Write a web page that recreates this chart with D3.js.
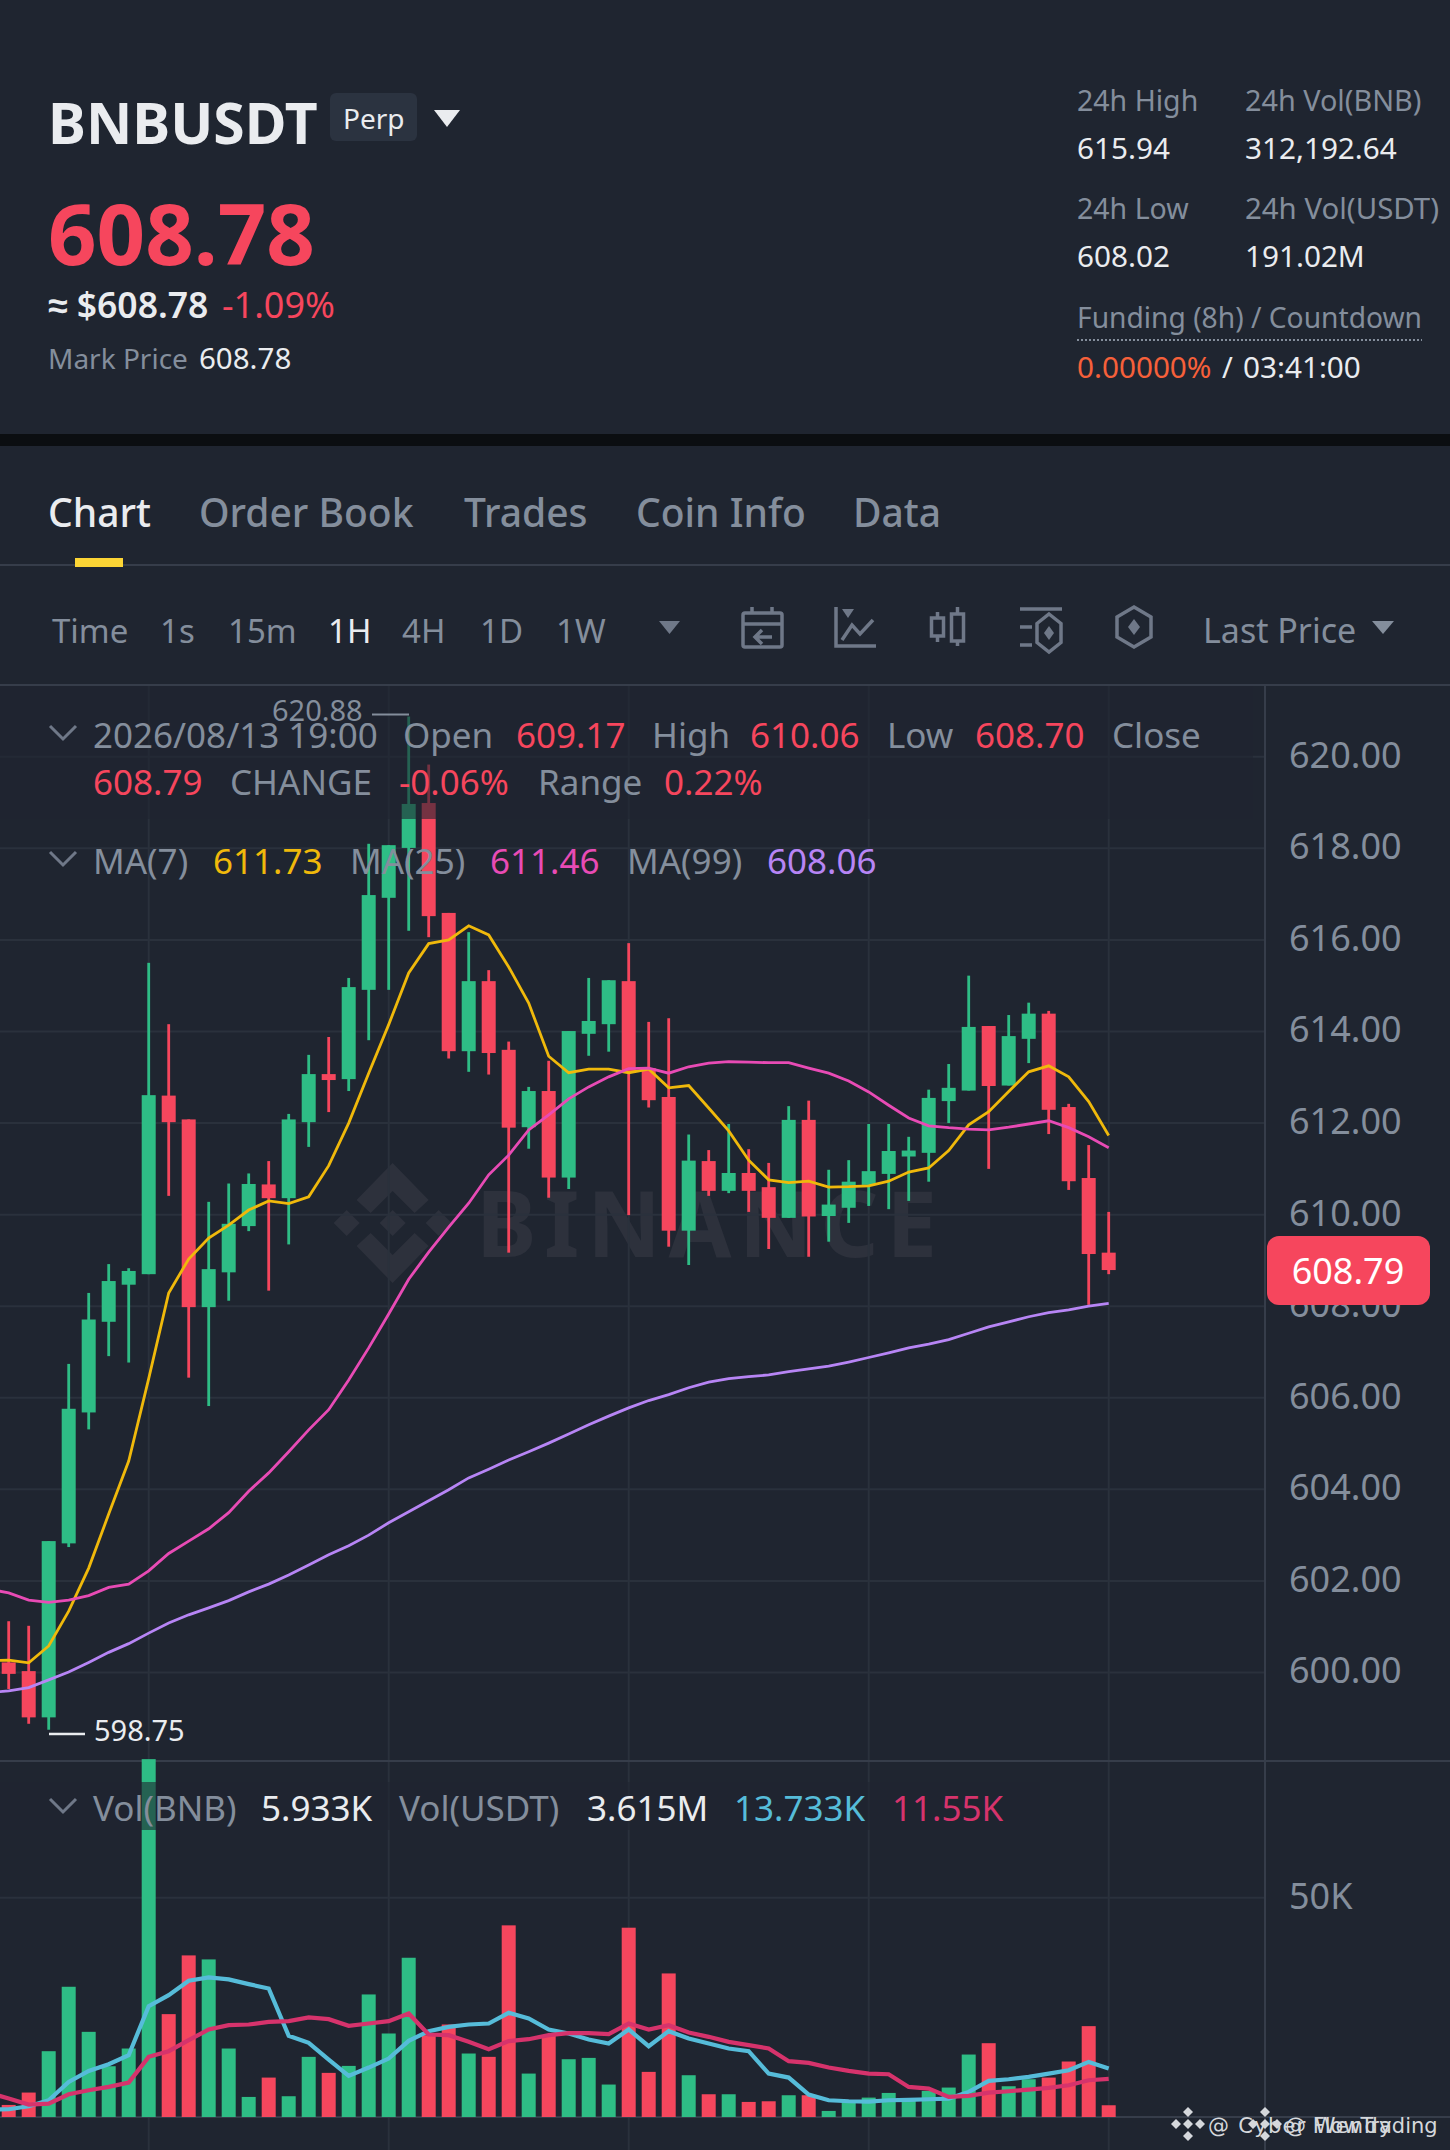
<!DOCTYPE html>
<html>
<head>
<meta charset="utf-8">
<script src="https://cdn.jsdelivr.net/npm/d3@7"></script>
<style>
  html, body { margin: 0; background: #1f2530; overflow: hidden; }
  text { font-family: "Noto Sans", sans-serif; }
</style>
</head>
<body>
<svg id="chart" width="1450" height="2150"></svg>
<script>
// candles, oldest first (1H)
const open_ = [600.22,600.03,599.02,602.82,605.68,607.66,608.47,608.70,612.60,612.08,607.98,608.74,609.75,610.66,610.36,612.02,613.07,612.96,614.91,616.92,618.01,618.99,616.59,613.57,615.10,613.60,611.91,612.70,610.81,613.95,614.16,615.10,613.20,612.57,609.65,611.17,610.52,610.91,610.60,609.93,612.07,609.97,610.15,610.65,610.89,611.27,611.35,612.48,612.71,614.12,612.82,613.84,614.39,612.35,610.80,609.17];
const close_ = [599.97,599.02,602.87,605.76,607.71,608.55,608.77,612.61,612.02,607.98,608.81,609.80,610.67,610.36,612.08,613.07,612.94,614.97,616.98,618.07,618.97,616.52,613.57,615.10,613.53,611.90,612.70,610.81,614.01,614.23,615.12,613.10,612.50,609.65,611.18,610.52,610.91,610.52,609.93,612.07,609.96,610.22,610.72,610.95,611.39,611.40,612.55,612.77,614.10,612.81,613.90,614.39,612.29,610.73,609.14,608.79];
const high = [601.12,601.02,602.87,606.74,608.29,608.92,608.83,615.50,614.16,612.08,610.28,610.68,610.90,611.17,612.20,613.49,613.88,615.17,618.10,618.07,620.88,619.83,616.59,616.17,615.34,613.78,612.79,613.36,614.01,615.17,615.12,615.93,614.21,614.29,611.75,611.41,611.98,611.43,611.13,612.37,612.49,610.98,611.19,611.98,611.98,611.70,612.73,613.29,615.22,614.12,614.36,614.63,614.45,612.42,611.52,610.06];
const low = [599.64,598.88,598.75,602.74,605.31,606.91,606.77,608.70,610.41,606.44,605.82,608.12,609.64,608.34,609.35,611.48,612.24,612.70,613.81,614.91,616.20,616.06,613.41,613.12,613.06,609.17,611.44,610.37,610.56,613.47,613.56,609.99,612.34,609.30,608.90,610.41,610.47,610.06,609.25,609.93,609.08,609.41,609.82,610.19,610.12,610.30,610.72,612.00,612.71,611.00,612.82,613.31,611.76,610.54,608.03,608.70];

// moving averages, first point is one candle off the left edge
const ma7 = [600.26,600.27,600.21,600.58,601.34,602.28,603.46,604.62,606.42,608.29,609.03,609.49,609.77,610.10,610.30,610.24,610.39,611.07,612.00,613.09,614.15,615.28,615.92,616.00,616.31,616.11,615.41,614.62,613.46,613.10,613.18,613.18,613.10,613.18,612.77,612.82,612.33,611.83,611.19,610.76,610.70,610.73,610.60,610.61,610.63,610.73,610.93,611.02,611.40,611.96,612.25,612.69,613.12,613.25,613.01,612.47,611.73];
const ma25 = [601.82,601.74,601.58,601.53,601.58,601.68,601.86,601.93,602.22,602.60,602.87,603.14,603.49,603.96,604.36,604.82,605.30,605.74,606.39,607.09,607.83,608.59,609.18,609.73,610.25,610.87,611.30,611.85,612.18,612.53,612.79,613.01,613.19,613.20,613.09,613.23,613.31,613.34,613.33,613.32,613.32,613.20,613.09,612.92,612.68,612.39,612.11,611.94,611.90,611.87,611.85,611.91,611.98,612.05,611.90,611.70,611.46];
const ma99 = [599.56,599.60,599.67,599.84,600.01,600.22,600.44,600.63,600.86,601.08,601.26,601.41,601.57,601.76,601.93,602.13,602.35,602.57,602.77,603.00,603.27,603.51,603.75,603.99,604.25,604.44,604.64,604.82,605.01,605.21,605.41,605.60,605.78,605.94,606.07,606.22,606.34,606.42,606.46,606.50,606.57,606.63,606.69,606.78,606.88,606.98,607.09,607.17,607.27,607.41,607.55,607.66,607.77,607.86,607.92,608.00,608.06];

// volume in thousands of BNB
const volume = [6.00,8.63,17.41,31.09,21.52,14.22,17.98,79.42,25.28,37.75,36.90,17.98,7.70,11.81,7.85,16.21,12.81,14.29,29.46,21.17,37.25,20.81,23.08,16.92,16.21,44.13,12.66,20.81,15.71,15.99,10.33,43.63,13.02,33.92,12.31,8.27,8.27,6.64,6.78,8.06,8.06,4.73,6.64,7.56,8.55,7.14,8.98,9.69,16.70,19.11,9.97,11.46,11.81,15.22,22.73,5.933];
const volMaFast = [5.00,5.08,5.72,7.00,10.89,13.23,14.65,16.56,26.98,29.32,32.36,33.07,32.65,31.65,30.73,20.67,19.18,15.64,12.17,13.94,15.85,19.61,21.66,22.58,23.08,23.29,25.56,24.36,22.02,21.17,19.89,19.04,22.02,18.47,21.66,20.10,19.04,17.98,17.41,12.66,11.81,8.20,7.00,6.78,6.71,7.00,7.07,7.21,7.35,8.77,11.10,11.46,11.96,12.66,13.37,15.14,13.733];
const volMaSlow = [8.62,7.35,6.07,6.29,8.27,9.12,9.83,10.75,16.21,17.41,19.75,22.02,22.94,23.08,23.65,23.79,24.57,24.21,22.80,23.29,23.79,25.42,20.95,20.81,19.40,17.84,19.54,19.96,20.81,21.24,21.24,21.03,23.29,22.02,22.94,21.38,20.46,19.40,18.69,17.98,15.29,14.93,13.94,13.23,12.66,12.52,9.83,9.47,7.70,7.92,8.62,8.91,9.26,9.62,10.18,11.25,11.55];

const priceTicks = [600,602,604,606,608,610,612,614,616,618,620];
const volTicks = [50];
const timeGrid = [7,19,31,43,55]; // candle index of the vertical grid lines

const GREEN = "#2ebd85", RED = "#f6465d", BG = "#1f2530", GRID = "#2a313c", LINE = "#363d4a";
const GREY = "#848e9c", WHITE = "#eaecef", YELLOW = "#f0b90b", PINK = "#e84bb5", PURPLE = "#b785f5";
const VOL_BLUE = "#56bcd9", VOL_RED = "#d6336c";
const ICON = "#6f7888";

const AXIS_X = 1265, BASE_Y = 2117;

const svg = d3.select("#chart");
svg.append("rect").attr("width", 1450).attr("height", 2150).attr("fill", BG);

const x = d3.scaleLinear().domain([0, 55]).range([8.7, 1108.7]);
const y = d3.scaleLinear().domain([600, 620]).range([1672.5, 756.8]);
const yVol = d3.scaleLinear().domain([3.44, 50]).range([BASE_Y, 1897.7]);

function txt(px, py, s, size, color, weight, anchor) {
  return svg.append("text").attr("x", px).attr("y", py).text(s)
    .attr("font-size", size).attr("fill", color)
    .attr("font-weight", weight || 400).attr("text-anchor", anchor || "start");
}
function tri(px, py, w, h, color) {
  svg.append("path").attr("d", `M${px} ${py}h${w}l${-w/2} ${h}z`).attr("fill", color);
}

/************ header ************/
txt(48, 144, "BNBUSDT", 57, WHITE, 700);
svg.append("rect").attr("x", 330).attr("y", 93).attr("width", 87).attr("height", 48).attr("rx", 6).attr("fill", "#2b3340");
txt(343, 129, "Perp", 28, WHITE);
tri(434, 110, 26, 17, WHITE);

txt(48, 265, "608.78", 85, RED, 700);
txt(48, 318, "≈ $608.78", 35.5, WHITE, 600);
txt(222, 318, "-1.09%", 36, RED, 400);
txt(48, 369, "Mark Price", 28, GREY);
txt(199, 369, "608.78", 29.5, WHITE);

txt(1077, 111, "24h High", 28.5, GREY);
txt(1245, 111, "24h Vol(BNB)", 28.8, GREY);
txt(1077, 159, "615.94", 29.7, WHITE);
txt(1245, 159, "312,192.64", 29.7, WHITE);
txt(1077, 219, "24h Low", 28.5, GREY);
txt(1245, 219, "24h Vol(USDT)", 29.4, GREY);
txt(1077, 267, "608.02", 29.7, WHITE);
txt(1245, 267, "191.02M", 29.7, WHITE);
txt(1077, 328, "Funding (8h) / Countdown", 28.2, GREY);
svg.append("line").attr("x1", 1077).attr("x2", 1422).attr("y1", 340).attr("y2", 340)
  .attr("stroke", GREY).attr("stroke-width", 2).attr("stroke-dasharray", "2 2");
txt(1077, 378, "0.00000%", 29.7, "#f6603a");
txt(1222, 378, "/", 29, WHITE);
txt(1243, 378, "03:41:00", 29.7, WHITE);

svg.append("rect").attr("y", 434).attr("width", 1450).attr("height", 12).attr("fill", "#0b0e11");

/************ tabs + toolbar ************/
[["Chart",48,WHITE,500],["Order Book",199,GREY,500],["Trades",464,GREY,500],["Coin Info",636,GREY,500],["Data",853,GREY,500]]
  .forEach(d => txt(d[1], 527, d[0], 39, d[2], d[3]));
svg.append("rect").attr("y", 564).attr("width", 1450).attr("height", 2).attr("fill", LINE);
svg.append("rect").attr("x", 75).attr("y", 558).attr("width", 48).attr("height", 9).attr("fill", "#fcd535");

[["Time",52,GREY],["1s",160,GREY],["15m",228,GREY],["1H",328,WHITE],["4H",402,GREY],["1D",480,GREY],["1W",556,GREY]]
  .forEach(d => txt(d[1], 643, d[0], 33, d[2]));
txt(1203, 643, "Last Price", 34, GREY);
tri(659, 621, 21, 13, ICON);
tri(1372, 621, 22, 13, GREY);

const icons = svg.append("g").attr("fill", "none").attr("stroke", ICON).attr("stroke-width", 3.5);
function hex(cx, cy, w, h) {
  return `M${cx} ${cy-h}L${cx+w} ${cy-h/2}V${cy+h/2}L${cx} ${cy+h}L${cx-w} ${cy+h/2}V${cy-h/2}Z`;
}
function diamond(cx, cy, w, h) {
  svg.append("path").attr("d", `M${cx} ${cy-h}L${cx+w} ${cy}L${cx} ${cy+h}L${cx-w} ${cy}Z`).attr("fill", ICON);
}
// calendar
icons.append("rect").attr("x", 743).attr("y", 613).attr("width", 39).attr("height", 34).attr("rx", 2);
icons.append("path").attr("d", "M743 624H782M752 607V613M772 607V613M772 637H756M762 630L755 637L762 644");
// line chart
icons.append("path").attr("d", "M836 607V646H876M842 640L852 625L860 634L873 620");
tri(842, 609, 12, 9, ICON);
// candles
icons.append("path").attr("d", "M931.5 618h12v18h-12zM937.5 612v6M937.5 636v6M951.5 614h12v27h-12zM957.5 607v7M957.5 641v5");
// indicator list
icons.append("path").attr("d", "M1020 609H1062M1020 627H1032M1020 645H1032" + hex(1049, 633, 12, 19));
diamond(1049, 633, 5, 7);
// hexagon
icons.append("path").attr("d", hex(1134, 627, 17, 20));
diamond(1134, 627, 6, 8);

/************ watermark ************/
const wm = svg.append("g").attr("fill", "#2d313c");
const cx = 392.6, cy = 1223;
[-1, 1].forEach(s => {
  wm.append("path").attr("d", `M${cx} ${cy-60*s}L${cx+36} ${cy-23*s}L${cx+22} ${cy-10*s}L${cx} ${cy-32*s}L${cx-22} ${cy-10*s}L${cx-36} ${cy-23*s}Z`);
});
[-46, 0, 46].forEach(dx => {
  wm.append("path").attr("d", `M${cx+dx} ${cy-13}l13 13l-13 13l-13 -13z`);
});
wm.append("text").attr("x", 476).attr("y", 1257).text("BINANCE")
  .attr("font-size", 91).attr("font-weight", 700).attr("letter-spacing", 7.5);

/************ grid + axes ************/
const grid = svg.append("g").attr("stroke", GRID).attr("stroke-width", 2);
grid.selectAll(".h").data(priceTicks).join("line")
  .attr("x1", 0).attr("x2", AXIS_X).attr("y1", d => y(d)).attr("y2", d => y(d));
grid.selectAll(".hv").data(volTicks).join("line").attr("class", "hv")
  .attr("x1", 0).attr("x2", AXIS_X).attr("y1", d => yVol(d)).attr("y2", d => yVol(d));
grid.selectAll(".v").data(timeGrid).join("line").attr("class", "v")
  .attr("y1", 686).attr("y2", 2150).attr("x1", d => x(d)).attr("x2", d => x(d));

svg.append("rect").attr("y", 684).attr("width", 1450).attr("height", 2).attr("fill", LINE);
svg.append("rect").attr("y", 1760).attr("width", 1450).attr("height", 2).attr("fill", LINE);
svg.append("rect").attr("y", BASE_Y - 1).attr("width", 1450).attr("height", 2).attr("fill", LINE);
svg.append("rect").attr("x", AXIS_X - 1).attr("y", 686).attr("width", 2).attr("height", 1464).attr("fill", LINE);

const priceAxis = d3.axisRight(y).tickValues(priceTicks).tickFormat(d3.format(".2f")).tickSize(0).tickPadding(0);
const volAxis = d3.axisRight(yVol).tickValues(volTicks).tickFormat(d => d + "K").tickSize(0).tickPadding(0);
[[priceAxis], [volAxis]].forEach(a => {
  const g = svg.append("g").attr("transform", "translate(1289,0)").call(a[0]);
  g.select(".domain").remove();
  g.selectAll("text").attr("font-family", "Noto Sans").attr("font-size", 36).attr("fill", GREY).attr("dy", "0.29em");
});

/************ candles ************/
const idx = d3.range(open_.length);
const candles = svg.append("g");
candles.selectAll(".wick").data(idx).join("rect").attr("class", "wick")
  .attr("x", i => x(i) - 1.4).attr("width", 2.8)
  .attr("y", i => y(high[i])).attr("height", i => y(low[i]) - y(high[i]))
  .attr("fill", i => close_[i] >= open_[i] ? GREEN : RED);
candles.selectAll(".body").data(idx).join("rect").attr("class", "body")
  .attr("x", i => x(i) - 7).attr("width", 14)
  .attr("y", i => y(Math.max(open_[i], close_[i])))
  .attr("height", i => Math.max(2, Math.abs(y(open_[i]) - y(close_[i]))))
  .attr("fill", i => close_[i] >= open_[i] ? GREEN : RED);

function drawLine(values, scale, color, width) {
  svg.append("path").datum(values)
    .attr("d", d3.line().x((d, i) => x(i - 1)).y(d => scale(d)))
    .attr("fill", "none").attr("stroke", color).attr("stroke-width", width).attr("stroke-linejoin", "miter");
}
drawLine(ma7, y, YELLOW, 2.8);
drawLine(ma25, y, PINK, 2.8);
drawLine(ma99, y, PURPLE, 2.8);

/************ volume ************/
svg.append("g").selectAll("rect").data(idx).join("rect")
  .attr("x", i => x(i) - 7).attr("width", 14)
  .attr("y", i => yVol(volume[i])).attr("height", i => BASE_Y - yVol(volume[i]))
  .attr("fill", i => close_[i] >= open_[i] ? GREEN : RED);
drawLine(volMaFast, yVol, VOL_BLUE, 4.2);
drawLine(volMaSlow, yVol, VOL_RED, 4.2);

/************ legends ************/
// legend panels dim whatever runs behind them
svg.append("rect").attr("y", 686).attr("width", 1253).attr("height", 133).attr("fill", BG).attr("opacity", 0.6);
svg.append("rect").attr("y", 1782).attr("width", 1040).attr("height", 48).attr("fill", BG).attr("opacity", 0.6);

function chevron(px, py) {
  svg.append("path").attr("d", `M${px} ${py}l13 13l13 -13`).attr("fill", "none").attr("stroke", "#6f7888").attr("stroke-width", 3);
}
const LEG = 35;
chevron(50, 726);
txt(93, 748, "2026/08/13 19:00", LEG, GREY);
txt(403, 748, "Open", LEG, GREY);
txt(516, 748, "609.17", LEG, RED);
txt(652, 748, "High", LEG, GREY);
txt(750, 748, "610.06", LEG, RED);
txt(887, 748, "Low", LEG, GREY);
txt(975, 748, "608.70", LEG, RED);
txt(1112, 748, "Close", LEG, GREY);
txt(93, 795, "608.79", LEG, RED);
txt(230, 795, "CHANGE", LEG, GREY);
txt(399, 795, "-0.06%", LEG, RED);
txt(538, 795, "Range", LEG, GREY);
txt(664, 795, "0.22%", LEG, RED);

chevron(50, 852);
txt(93, 874, "MA(7)", LEG, GREY);
txt(213, 874, "611.73", LEG, YELLOW);
txt(350, 874, "MA(25)", LEG, GREY);
txt(490, 874, "611.46", LEG, PINK);
txt(627, 874, "MA(99)", LEG, GREY);
txt(767, 874, "608.06", LEG, PURPLE);

chevron(50, 1799);
txt(93, 1821, "Vol(BNB)", LEG, GREY);
txt(261, 1821, "5.933K", LEG, WHITE);
txt(399, 1821, "Vol(USDT)", LEG, GREY);
txt(587, 1821, "3.615M", LEG, WHITE);
txt(734, 1821, "13.733K", LEG, VOL_BLUE);
txt(892, 1821, "11.55K", LEG, VOL_RED);

// high / low markers
svg.append("rect").attr("x", 372).attr("y", y(620.88) - 3).attr("width", 37).attr("height", 2).attr("fill", GREY);
txt(272, 721, "620.88", 29, GREY);
svg.append("rect").attr("x", 49).attr("y", y(598.75) + 3).attr("width", 36).attr("height", 2.5).attr("fill", WHITE);
txt(94, 1741, "598.75", 29, WHITE);

// last price tag
svg.append("rect").attr("x", 1267).attr("y", 1236).attr("width", 163).attr("height", 69).attr("rx", 12).attr("fill", RED);
txt(1348, 1284, "608.79", 36, "#fff", 400, "middle");

// share watermarks
function shareMark(px, label, spacing) {
  const g = svg.append("g").attr("fill", "#d5d8dc");
  [[0,-12],[-12,0],[12,0],[0,12],[0,0]].forEach(p => {
    g.append("path").attr("d", `M${px+p[0]} ${2124+p[1]-5}l5 5l-5 5l-5 -5z`);
  });
  txt(px + 20, 2133, label, 21, "#d5d8dc").attr("letter-spacing", spacing)
    .style("font-family", "DejaVu Sans");
}
shareMark(1188, "@ Cyber Wendy", 1.3);
shareMark(1265, "@ FlowTrading", 0);
</script>
</body>
</html>
